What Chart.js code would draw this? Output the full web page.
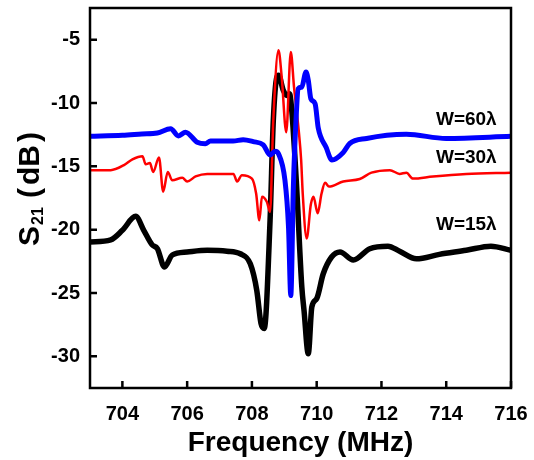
<!DOCTYPE html>
<html>
<head>
<meta charset="utf-8">
<script src="https://cdn.jsdelivr.net/npm/chart.js@4"></script>
<style>
  body { margin: 0; background: #fff; }
  #wrap { width: 534px; height: 460px; }
</style>
</head>
<body>
<div id="wrap"><canvas id="lineChart" width="534" height="460"></canvas></div>
<script>
// tick labels
const xTicks = [704, 706, 708, 710, 712, 714, 716];
const yTicks = [-30, -25, -20, -15, -10, -5];

// W=60λ (blue)
const blueFreq = [703.0, 704.0, 704.6, 705.08, 705.49, 705.73, 705.95, 706.31, 706.56, 706.72, 707.42, 707.73,
  708.04, 708.35, 708.56, 708.72, 708.82, 709.02, 709.13, 709.2, 709.28, 709.36, 709.43, 709.54, 709.67,
  709.74, 709.82, 709.95, 710.05, 710.29, 710.47, 710.82, 711.02, 711.54, 712.77, 714.0, 716.0];
const blueS21 = [-12.63, -12.55, -12.45, -12.37, -12.03, -12.6, -12.3, -13.1, -13.22, -13.0, -13.0, -12.9,
  -13.05, -13.3, -14.1, -13.8, -14.0, -16.1, -19.8, -25.2, -16.6, -11.4, -8.87, -8.74, -7.56,
  -8.2, -9.66, -10.05, -12.0, -13.5, -14.5, -13.9, -13.2, -12.8, -12.47, -12.8, -12.63];

// W=30λ (red)
const redFreq = [703.0, 703.64, 704.05, 704.31, 704.62, 704.72, 704.85, 704.95, 705.13, 705.26, 705.4, 705.54,
  705.85, 706.0, 706.26, 706.62, 707.43, 707.54, 707.69, 708.0, 708.13, 708.23, 708.31, 708.46, 708.56,
  708.66, 708.82, 708.92, 709.06, 709.2, 709.3, 709.45, 709.52, 709.57, 709.69, 709.82, 709.9, 710.03,
  710.15, 710.26, 710.38, 710.82, 711.33, 711.69, 712.26, 712.56, 712.77, 712.97, 713.59, 714.62, 716.0];
const redS21 = [-15.3, -15.3, -14.9, -14.45, -14.2, -14.84, -14.74, -15.45, -14.3, -17.0, -15.45, -16.1,
  -15.9, -16.2, -15.8, -15.6, -15.6, -16.2, -15.7, -15.97, -17.15, -19.26, -17.4, -17.8, -18.6,
  -11.37, -5.84, -7.95, -12.3, -5.98, -8.74, -12.3, -14.5, -17.2, -20.7, -18.0, -17.4, -18.7,
  -17.15, -16.3, -16.6, -16.2, -16.0, -15.5, -15.3, -15.6, -15.5, -15.97, -15.8, -15.6, -15.5];

// W=15λ (black)
const blackFreq = [703.0, 703.64, 704.0, 704.41, 704.66, 704.92, 705.08, 705.3, 705.54, 706.0, 706.62, 707.23,
  707.64, 707.95, 708.15, 708.28, 708.38, 708.56, 708.66, 708.77, 708.82, 708.97, 709.08, 709.16, 709.23,
  709.38, 709.54, 709.61, 709.74, 709.85, 710.0, 710.2, 710.46, 710.72, 711.13, 711.64, 712.2, 712.56,
  713.08, 713.79, 714.62, 715.38, 716.0];
const blackS21 = [-20.97, -20.8, -20.05, -18.95, -20.05, -21.2, -21.5, -22.95, -22.0, -21.76, -21.63, -21.7,
  -21.9, -22.7, -24.8, -27.4, -27.8, -19.26, -11.4, -7.95, -7.8, -9.0, -9.4, -9.26, -10.58,
  -16.6, -24.5, -26.4, -29.8, -26.1, -25.45, -23.5, -22.16, -21.76, -22.4, -21.5, -21.3, -21.7,
  -22.3, -21.95, -21.63, -21.3, -21.63];

// curve labels
const labelTexts = ["W=60\u03bb", "W=30\u03bb", "W=15\u03bb"];
const labelFreq = [714.62, 714.62, 714.62];
const labelS21 = [-11.29, -14.33, -19.58];

function pts(xs, ys) {
  return xs.map((x, i) => ({ x: x, y: ys[i] }));
}

const FONT = "'Liberation Sans', Arial, sans-serif";

const framePlugin = {
  id: "frame",
  afterDatasetsDraw(chart) {
    const ctx = chart.ctx;
    const a = chart.chartArea;
    const xs = chart.scales.x;
    const ys = chart.scales.y;
    ctx.save();
    ctx.strokeStyle = "#000";
    ctx.lineWidth = 2.5;
    ctx.strokeRect(a.left, a.top, a.right - a.left, a.bottom - a.top);
    // inward ticks
    ctx.beginPath();
    xTicks.forEach(v => {
      const px = xs.getPixelForValue(v);
      ctx.moveTo(px, a.bottom);
      ctx.lineTo(px, a.bottom - 7);
    });
    yTicks.forEach(v => {
      const py = ys.getPixelForValue(v);
      ctx.moveTo(a.left, py);
      ctx.lineTo(a.left + 7, py);
    });
    ctx.stroke();

    // curve labels
    ctx.fillStyle = "#000";
    ctx.font = "bold 19px " + FONT;
    ctx.textAlign = "center";
    ctx.textBaseline = "middle";
    labelTexts.forEach((t, i) => {
      ctx.fillText(t, xs.getPixelForValue(labelFreq[i]), ys.getPixelForValue(labelS21[i]));
    });
    ctx.restore();
  },
  afterDraw(chart) {
    // y axis title: S21 (dB) with subscript
    const ctx = chart.ctx;
    ctx.save();
    ctx.translate(28, 189);
    ctx.rotate(-Math.PI / 2);
    ctx.fillStyle = "#000";
    ctx.textBaseline = "alphabetic";
    ctx.textAlign = "left";
    const big = "bold 30px " + FONT;
    const small = "bold 16px " + FONT;
    const parts = [
      { t: "S", f: big, dy: 0, gap: 1 },
      { t: "21", f: small, dy: 4, gap: 9 },
      { t: "(", f: big, dy: 0, gap: 3 },
      { t: "dB", f: big, dy: 0, gap: 3 },
      { t: ")", f: big, dy: 0, gap: 0 }
    ];
    let total = 0;
    parts.forEach(p => { ctx.font = p.f; p.w = ctx.measureText(p.t).width; total += p.w + p.gap; });
    let x = -total / 2;
    const base = 11;
    parts.forEach(p => {
      ctx.font = p.f;
      ctx.fillText(p.t, x, base + p.dy);
      x += p.w + p.gap;
    });
    ctx.restore();
  }
};

const ctx = document.getElementById("lineChart").getContext("2d");
new Chart(ctx, {
  type: "line",
  data: {
    datasets: [
      { label: "W=60λ", data: pts(blueFreq, blueS21), borderColor: "#0000ff", borderWidth: 5 },
      { label: "W=30λ", data: pts(redFreq, redS21), borderColor: "#ff0000", borderWidth: 2.5 },
      { label: "W=15λ", data: pts(blackFreq, blackS21), borderColor: "#000000", borderWidth: 5.5 }
    ]
  },
  options: {
    responsive: false,
    animation: false,
    layout: { padding: { top: 8, right: 23, left: 0, bottom: 0 } },
    elements: {
      point: { radius: 0 },
      line: { cubicInterpolationMode: "monotone", borderJoinStyle: "round", borderCapStyle: "round" }
    },
    plugins: { legend: { display: false }, tooltip: { enabled: false } },
    scales: {
      x: {
        type: "linear",
        min: 703,
        max: 716,
        afterBuildTicks: s => { s.ticks = xTicks.map(v => ({ value: v })); },
        afterFit: s => { s.height = 72; s.paddingLeft = 0; s.paddingRight = 0; },
        grid: { display: false },
        border: { display: false },
        ticks: { color: "#000", padding: 6, maxRotation: 0, font: { family: FONT, size: 20, weight: "bold" } },
        title: {
          display: true,
          text: "Frequency (MHz)",
          color: "#000",
          padding: { top: 0, bottom: 0 },
          font: { family: FONT, size: 28, weight: "bold" }
        }
      },
      y: {
        min: -32.5,
        max: -2.5,
        afterBuildTicks: s => { s.ticks = yTicks.map(v => ({ value: v })); },
        afterFit: s => { s.width = 90; s.paddingTop = 0; s.paddingBottom = 0; },
        grid: { display: false },
        border: { display: false },
        ticks: { color: "#000", padding: 2, font: { family: FONT, size: 20, weight: "bold" } }
      }
    }
  },
  plugins: [framePlugin]
});
</script>
</body>
</html>
